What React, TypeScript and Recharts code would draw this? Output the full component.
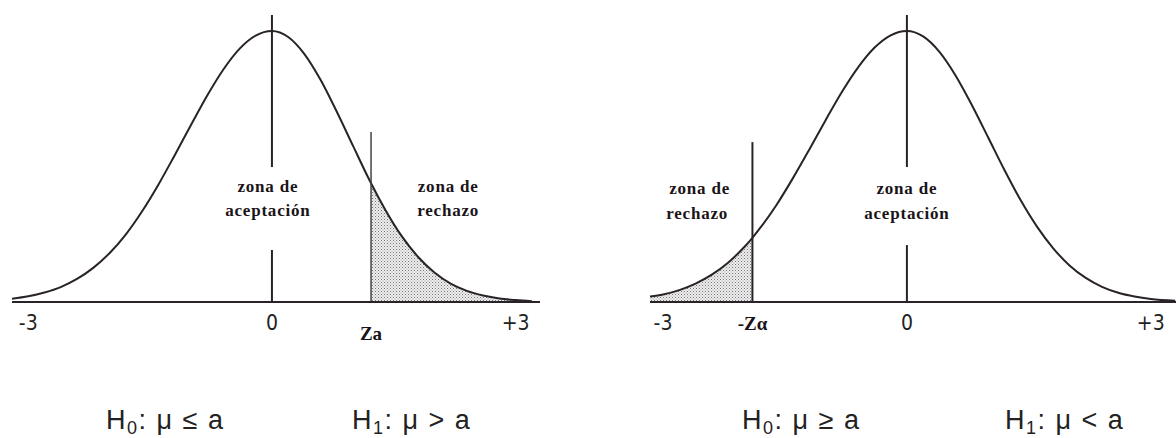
import React from 'react';
import { ComposedChart, Line, Area, XAxis, YAxis, ReferenceLine, ReferenceDot } from 'recharts';

// Left curve (H1: mu > a), heights relative to the peak
const leftZ = [-3.2, -3, -2.8, -2.6, -2.4, -2.2, -2, -1.8, -1.6, -1.4, -1.2, -1, -0.8, -0.6, -0.4, -0.2, 0, 0.2, 0.4, 0.6, 0.8, 1, 1.2, 1.22, 1.4, 1.6, 1.8, 2, 2.2, 2.4, 2.6, 2.8, 3, 3.2];
const leftH = [0.012, 0.021, 0.035, 0.055, 0.085, 0.126, 0.18, 0.249, 0.334, 0.432, 0.54, 0.651, 0.76, 0.857, 0.934, 0.983, 1, 0.978, 0.915, 0.819, 0.701, 0.575, 0.45, 0.438, 0.338, 0.242, 0.166, 0.109, 0.068, 0.041, 0.024, 0.013, 0.007, 0.003];

// Right curve (H1: mu < a)
const rightZ = [-3.16, -3, -2.8, -2.6, -2.4, -2.2, -2, -1.9, -1.8, -1.6, -1.4, -1.2, -1, -0.8, -0.6, -0.4, -0.2, 0, 0.2, 0.4, 0.6, 0.8, 1, 1.2, 1.4, 1.6, 1.8, 2, 2.2, 2.4, 2.6, 2.8, 3, 3.3];
const rightH = [0.02, 0.028, 0.044, 0.068, 0.101, 0.145, 0.203, 0.237, 0.275, 0.36, 0.458, 0.563, 0.671, 0.775, 0.866, 0.938, 0.984, 1, 0.98, 0.923, 0.835, 0.726, 0.607, 0.487, 0.375, 0.278, 0.198, 0.135, 0.089, 0.056, 0.034, 0.02, 0.011, 0.005];

const leftCritical = 1.22;
const rightCritical = -1.9;

const leftTicks = [-3, 0, 1.22, 3];
const leftTickLabels = ['-3', '0', 'Za', '+3'];
const rightTicks = [-3, -1.9, 0, 3];
const rightTickLabels = ['-3', '-Zα', '0', '+3'];

const zoneTop = 'zona de';
const acceptWord = 'aceptación';
const rejectWord = 'rechazo';

const leftData = leftZ.map((z, i) => ({ z, h: leftH[i], shade: z >= leftCritical ? leftH[i] : null }));
const rightData = rightZ.map((z, i) => ({ z, h: rightH[i], shade: z <= rightCritical ? rightH[i] : null }));

const INK = '#2a2229';
const YMAX = 1.059;

const makeTick = (ticks: number[], labels: string[], critical: number, critDy: number) => (props: any) => {
  const { x, y, payload } = props;
  const idx = ticks.indexOf(payload.value);
  const label = idx >= 0 ? labels[idx] : '';
  if (payload.value === critical) {
    return (
      <text x={x} y={y + critDy} textAnchor="middle" dominantBaseline="central"
        fontFamily="'Liberation Serif', serif" fontWeight="bold" fontSize={19} fill="#1a1418">
        {label}
      </text>
    );
  }
  return (
    <text x={x} y={y + 13} textAnchor="middle" dominantBaseline="central"
      fontFamily="'Liberation Sans Narrow', 'DejaVu Sans Condensed', 'Liberation Sans', sans-serif" fontSize={21} fill="#222">
      {label}
    </text>
  );
};

const zoneText = (text: string) => (p: any) => (
  <text x={p.cx} y={p.cy} textAnchor="middle" dominantBaseline="central"
    fontFamily="'Liberation Serif', serif" fontWeight="bold" fontSize={17} letterSpacing={0.8} fill="#1a1418">
    {text}
  </text>
);

const Dots = ({ id }: { id: string }) => (
  <defs>
    <pattern id={id} width={3} height={3} patternUnits="userSpaceOnUse">
      <rect width={3} height={3} fill="#eeeeee" />
      <rect width={1} height={1} fill="#777" />
      <rect x={1.5} y={1.5} width={1} height={1} fill="#999" />
    </pattern>
  </defs>
);

const LeftChart = () => (
  <ComposedChart width={560} height={370} data={leftData} margin={{ top: 15, right: 20, bottom: 38, left: 12 }}>
    <Dots id="dotsL" />
    <XAxis type="number" dataKey="z" domain={[-3.2, 3.3]} ticks={leftTicks} interval={0} allowDataOverflow
      height={30} tickLine={false} axisLine={{ stroke: INK, strokeWidth: 2 }}
      tick={makeTick(leftTicks, leftTickLabels, leftCritical, 23)} />
    <YAxis hide domain={[0, YMAX]} allowDataOverflow />
    <Area dataKey="shade" type="monotone" fill="url(#dotsL)" fillOpacity={1} stroke="none" isAnimationActive={false} connectNulls={false} />
    <Line dataKey="h" type="monotone" stroke={INK} strokeWidth={2} dot={false} isAnimationActive={false} />
    <ReferenceLine segment={[{ x: 0, y: YMAX }, { x: 0, y: 0.498 }]} stroke={INK} strokeWidth={2} />
    <ReferenceLine segment={[{ x: 0, y: 0.192 }, { x: 0, y: 0 }]} stroke={INK} strokeWidth={2} />
    <ReferenceLine segment={[{ x: leftCritical, y: 0.627 }, { x: leftCritical, y: 0 }]} stroke="#444" strokeWidth={1.5} />
    <ReferenceDot x={-0.05} y={0.428} r={0} shape={zoneText(zoneTop)} />
    <ReferenceDot x={-0.05} y={0.336} r={0} shape={zoneText(acceptWord)} />
    <ReferenceDot x={2.17} y={0.428} r={0} shape={zoneText(zoneTop)} />
    <ReferenceDot x={2.17} y={0.336} r={0} shape={zoneText(rejectWord)} />
  </ComposedChart>
);

const RightChart = () => (
  <ComposedChart width={546} height={370} data={rightData} margin={{ top: 15, right: 0, bottom: 38, left: 20 }}>
    <Dots id="dotsR" />
    <XAxis type="number" dataKey="z" domain={[-3.16, 3.31]} ticks={rightTicks} interval={0} allowDataOverflow
      height={30} tickLine={false} axisLine={{ stroke: INK, strokeWidth: 2 }}
      tick={makeTick(rightTicks, rightTickLabels, rightCritical, 13)} />
    <YAxis hide domain={[0, YMAX]} allowDataOverflow />
    <Area dataKey="shade" type="monotone" fill="url(#dotsR)" fillOpacity={1} stroke="none" isAnimationActive={false} connectNulls={false} />
    <Line dataKey="h" type="monotone" stroke={INK} strokeWidth={2} dot={false} isAnimationActive={false} />
    <ReferenceLine segment={[{ x: 0, y: YMAX }, { x: 0, y: 0.498 }]} stroke={INK} strokeWidth={2} />
    <ReferenceLine segment={[{ x: 0, y: 0.21 }, { x: 0, y: 0 }]} stroke={INK} strokeWidth={2} />
    <ReferenceLine segment={[{ x: rightCritical, y: 0.59 }, { x: rightCritical, y: 0 }]} stroke={INK} strokeWidth={2} />
    <ReferenceDot x={-2.55} y={0.42} r={0} shape={zoneText(zoneTop)} />
    <ReferenceDot x={-2.58} y={0.328} r={0} shape={zoneText(rejectWord)} />
    <ReferenceDot x={0} y={0.42} r={0} shape={zoneText(zoneTop)} />
    <ReferenceDot x={0} y={0.328} r={0} shape={zoneText(acceptWord)} />
  </ComposedChart>
);

const hypoX = [106, 352, 742, 1005];
const hypoSub = ['0', '1', '0', '1'];
const hypoRest = [': μ ≤ a', ': μ > a', ': μ ≥ a', ': μ < a'];

export default function App() {
  return (
    <div style={{ position: 'absolute', left: 0, top: 0, width: 1176, height: 438, background: '#fff', overflow: 'hidden' }}>
      <div style={{ position: 'absolute', left: 0, top: 0 }}><LeftChart /></div>
      <div style={{ position: 'absolute', left: 630, top: 0 }}><RightChart /></div>
      <svg width={1176} height={438} style={{ position: 'absolute', left: 0, top: 0, pointerEvents: 'none' }}>
        {hypoX.map((x, i) => (
          <text key={i} x={x} y={429} fontFamily="'Liberation Sans', Arial, sans-serif" fontSize={27} letterSpacing={1.5} fill="#222">
            H<tspan fontSize={18} dy={5}>{hypoSub[i]}</tspan><tspan dy={-5}>{hypoRest[i]}</tspan>
          </text>
        ))}
      </svg>
    </div>
  );
}
